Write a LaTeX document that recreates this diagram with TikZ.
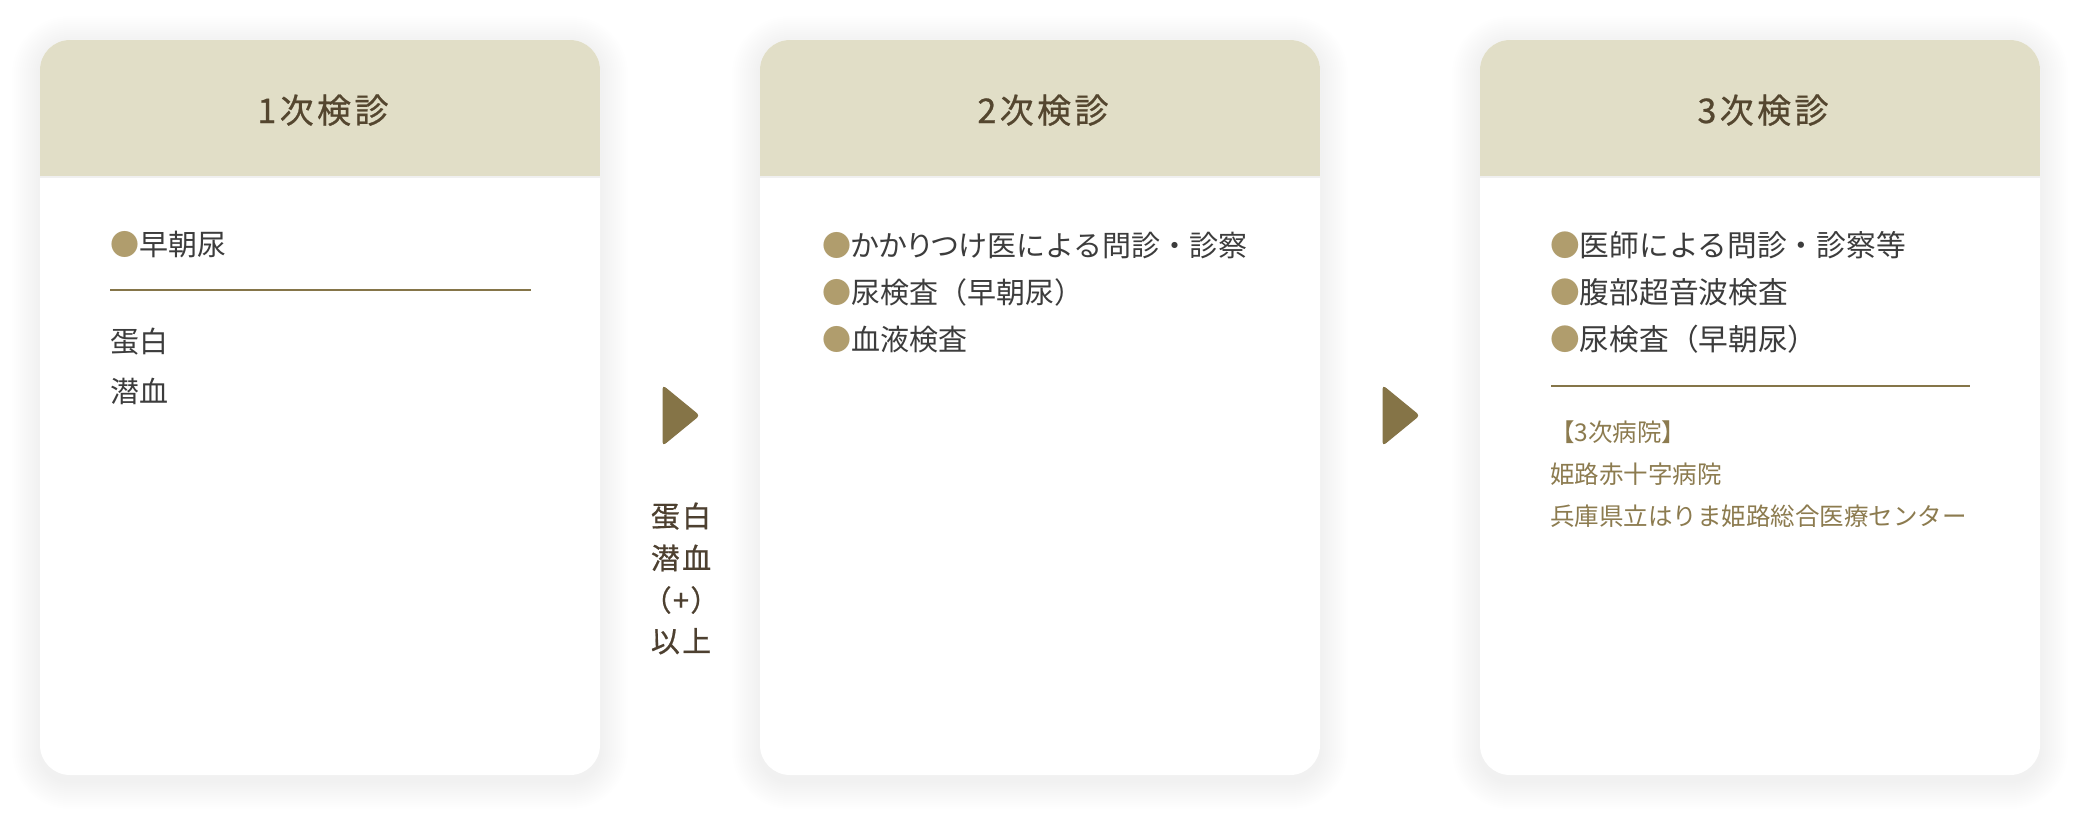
\documentclass[tikz,border=0pt]{standalone}
\usepackage{fontspec}
\setmainfont{Noto Sans CJK JP}
\newfontfamily\titlefont[LetterSpace=10,FakeBold=0.7]{Noto Sans CJK JP}
\newfontfamily\lblfont[LetterSpace=8,FakeBold=0.6]{Noto Sans CJK JP}
\newfontfamily\lblpfont[LetterSpace=8,FakeBold=0.6,RawFeature=+palt]{Noto Sans CJK JP}
\newfontfamily\paltfont[RawFeature=+palt]{Noto Sans CJK JP}
\definecolor{hdr}{HTML}{E1DEC7}
\definecolor{ttl}{HTML}{54462F}
\definecolor{body}{HTML}{3C3C3C}
\definecolor{bul}{HTML}{B09D6D}
\definecolor{rule}{HTML}{857549}
\definecolor{tri}{HTML}{857447}
\definecolor{hosp}{HTML}{8C7B4F}
\definecolor{lbl}{HTML}{4D4030}
\tikzset{
  ttlnode/.style={inner sep=0pt, anchor=base, text=ttl, font=\titlefont\fontsize{34}{40}\selectfont},
  bodynode/.style={inner sep=0pt, anchor=base west, text=body, font=\fontsize{29}{35}\selectfont},
  bodybig/.style={bodynode, font=\fontsize{29.7}{35}\selectfont},
  hospnode/.style={inner sep=0pt, anchor=base west, text=hosp, font=\fontsize{24.5}{30}\selectfont},
  lblnode/.style={inner sep=0pt, anchor=base, text=lbl, font=\lblfont\fontsize{29}{34}\selectfont},
  rulestyle/.style={draw=rule, line width=2pt},
  tristyle/.style={fill=tri, draw=tri, line width=1pt, rounded corners=3pt},
}
\newcommand{\bl}{{\color{bul}●}}
\begin{document}
\begin{tikzpicture}[x=1pt,y=-1pt]
\useasboundingbox[fill=white] (0,0) rectangle (2080,816);
% cards
\foreach \cx in {40,760,1480}{
  \foreach \i in {1,...,14}{
    \fill[black, opacity=0.004, rounded corners={30pt+\i*2pt}]
      ({\cx-\i*2}, {40-\i*2+4}) rectangle ({\cx+560+\i*2}, {775+\i*2+6});
  }
  \fill[white, rounded corners=30pt] (\cx,40) rectangle (\cx+560,775);
  \begin{scope}
    \clip[rounded corners=30pt] (\cx,40) rectangle (\cx+560,775);
    \fill[hdr] (\cx,40) rectangle (\cx+560,176);
    \fill[black!6] (\cx,176) rectangle (\cx+560,177.5);
  \end{scope}
}
% titles
\node[ttlnode] (t1) at (323,123) {1次検診};
\node[ttlnode] (t2) at (1043,123) {2次検診};
\node[ttlnode] (t3) at (1763,123) {3次検診};
% card 1
\node[bodynode] (a1) at (110,255) {\bl 早朝尿};
\coordinate (r1a) at (110,290);
\coordinate (r1b) at (531,290);
\draw[rulestyle] (r1a) -- (r1b);
\node[bodynode] (a2) at (110,352) {蛋白};
\node[bodynode] (a3) at (110,402) {潜血};
% card 2
\node[bodynode] (b1) at (822,256) {\bl {\paltfont かかりつけ}医による問診・診察};
\node[bodynode] (b2) at (822,303) {\bl 尿検査（早朝尿）};
\node[bodynode] (b3) at (822,350) {\bl 血液検査};
% card 3
\node[bodybig] (c1) at (1550,256) {\bl 医師による問診・診察等};
\node[bodybig] (c2) at (1550,303) {\bl 腹部超音波検査};
\node[bodybig] (c3) at (1550,350) {\bl 尿検査（早朝尿）};
\coordinate (r3a) at (1551,386);
\coordinate (r3b) at (1970,386);
\draw[rulestyle] (r3a) -- (r3b);
\node[hospnode] (h1) at (1550,441) {【3次病院】};
\node[hospnode] (h2) at (1550,483) {姫路赤十字病院};
\node[hospnode] (h3) at (1550,525) {兵庫県立はりま姫路総合医療センター};
% arrows
\fill[tristyle] (663,386) -- (699,415.5) -- (663,445) -- cycle;
\fill[tristyle] (1383,386) -- (1419,415.5) -- (1383,445) -- cycle;
% label
\node[lblnode] (l1) at (681,527) {蛋白};
\node[lblnode] (l2) at (681,569) {潜血};
\node[lblnode, font=\lblpfont\fontsize{29}{34}\selectfont] (l3) at (681,611) {（+）};
\node[lblnode] (l4) at (681,652) {以上};
\end{tikzpicture}
\end{document}
